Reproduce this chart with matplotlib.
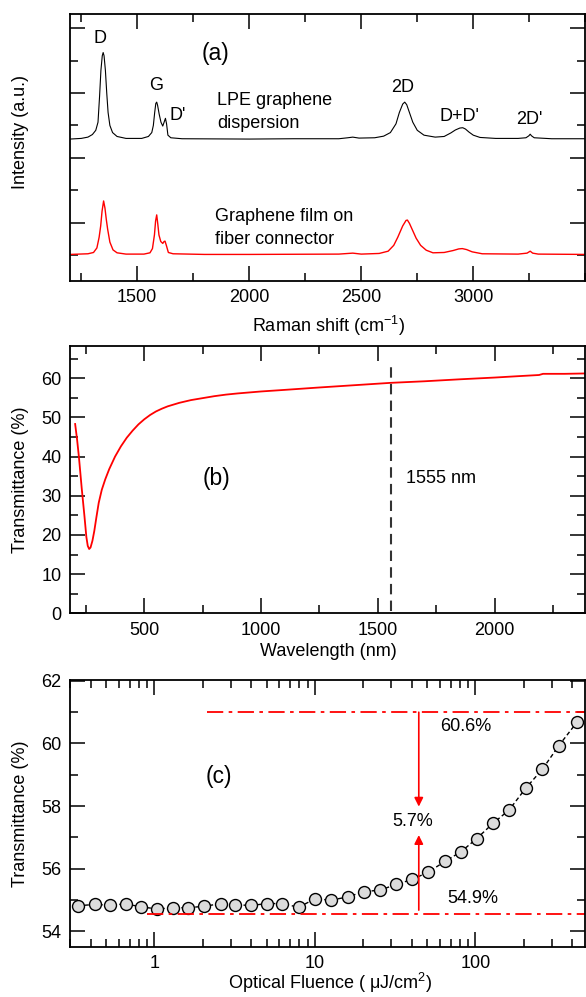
import numpy as np
import matplotlib.pyplot as plt
from matplotlib.ticker import MultipleLocator, FixedLocator, LogLocator, NullFormatter, FixedFormatter

plt.rcParams['font.family'] = ['Liberation Sans', 'DejaVu Sans']
plt.rcParams['mathtext.fontset'] = 'custom'
plt.rcParams['mathtext.rm'] = 'Liberation Sans'
plt.rcParams['mathtext.it'] = 'Liberation Sans:italic'
plt.rcParams['mathtext.default'] = 'regular'

# (a) Raman spectra (arbitrary intensity units)
raman_lpe_x = [1200, 1250, 1280, 1300, 1315, 1325, 1332, 1338, 1344, 1348, 1352, 1358, 1364, 1370,
               1378, 1390, 1410, 1450, 1520, 1550, 1565, 1572, 1578, 1583, 1587, 1591, 1598, 1606,
               1614, 1620, 1626, 1631, 1637, 1650, 1700, 2000, 2200, 2400, 2440, 2462, 2490, 2560,
               2600, 2630, 2655, 2670, 2685, 2694, 2703, 2715, 2730, 2750, 2780, 2830, 2870, 2900,
               2920, 2940, 2953, 2965, 2980, 3000, 3030, 3100, 3200, 3235, 3248, 3254, 3260, 3272,
               3350, 3500]
raman_lpe_y = [3.58, 3.60, 3.64, 3.72, 3.85, 4.10, 4.90, 5.70, 6.15, 6.25, 6.15, 5.70, 5.00, 4.40,
               4.00, 3.78, 3.66, 3.60, 3.60, 3.66, 3.78, 4.00, 4.40, 4.68, 4.72, 4.62, 4.35, 4.10,
               3.98, 4.10, 4.22, 4.05, 3.70, 3.62, 3.59, 3.58, 3.59, 3.59, 3.62, 3.64, 3.61, 3.62,
               3.67, 3.78, 4.05, 4.40, 4.66, 4.72, 4.64, 4.40, 4.10, 3.85, 3.70, 3.64, 3.66, 3.77,
               3.86, 3.92, 3.93, 3.89, 3.80, 3.70, 3.63, 3.60, 3.60, 3.62, 3.68, 3.73, 3.68, 3.62,
               3.59, 3.59]

raman_film_x = [1200, 1280, 1305, 1320, 1330, 1337, 1343, 1350, 1356, 1362, 1368, 1378, 1392, 1410,
                1450, 1530, 1557, 1568, 1577, 1582, 1587, 1592, 1597, 1605, 1614, 1620, 1624, 1630,
                1639, 1660, 1800, 2000, 2400, 2462, 2500, 2580, 2620, 2645, 2663, 2685, 2700, 2706,
                2715, 2730, 2745, 2765, 2790, 2820, 2870, 2910, 2935, 2951, 2970, 2995, 3040, 3200,
                3240, 3254, 3265, 3290, 3500]
raman_film_y = [0.02, 0.04, 0.08, 0.22, 0.55, 0.90, 1.35, 1.67, 1.45, 1.10, 0.80, 0.40, 0.16, 0.07,
                0.03, 0.03, 0.07, 0.20, 0.63, 1.05, 1.24, 0.95, 0.62, 0.42, 0.36, 0.42, 0.43, 0.30,
                0.08, 0.04, 0.02, 0.02, 0.03, 0.06, 0.03, 0.05, 0.12, 0.30, 0.55, 0.90, 1.07, 1.08,
                0.98, 0.75, 0.52, 0.30, 0.15, 0.07, 0.08, 0.14, 0.19, 0.20, 0.17, 0.10, 0.04, 0.03,
                0.06, 0.12, 0.06, 0.03, 0.02]

peak_labels = ["D", "G", "D'", "2D", "D+D'", "2D'"]
peak_label_x = [1334, 1584, 1679, 2685, 2940, 3250]
peak_label_y = [6.69, 5.22, 4.30, 5.18, 4.27, 4.17]

# (b) transmittance spectrum
wl = [204, 212, 220, 232, 244, 252, 258, 264, 270, 278, 286, 295, 305, 318, 333, 350, 375, 400,
      425, 450, 475, 500, 525, 550, 575, 600, 650, 700, 750, 800, 850, 900, 1000, 1100, 1245,
      1400, 1555, 1700, 1850, 2000, 2100, 2190, 2207, 2300, 2390]
trans = [48.3, 44.5, 40.0, 32.0, 24.7, 19.5, 17.2, 16.4, 16.8, 18.5, 21.0, 24.5, 28.2, 31.5, 34.2,
         36.8, 40.0, 42.6, 44.8, 46.6, 48.2, 49.5, 50.6, 51.5, 52.2, 52.8, 53.7, 54.4, 54.9, 55.4,
         55.8, 56.1, 56.6, 57.0, 57.6, 58.2, 58.8, 59.2, 59.7, 60.15, 60.5, 60.8, 61.1, 61.1, 61.2]

# (c) transmittance vs optical fluence
fluence = [0.333, 0.424, 0.531, 0.665, 0.83, 1.04, 1.30, 1.63, 2.03, 2.61, 3.20, 4.01, 5.05, 6.27,
           7.91, 10.0, 12.6, 16.0, 20.1, 25.5, 32.0, 40.3, 50.7, 64.7, 81.5, 102, 129, 162, 206,
           261, 331, 431]
trans_fl = [54.81, 54.85, 54.83, 54.87, 54.77, 54.71, 54.74, 54.75, 54.79, 54.88, 54.84, 54.82,
            54.88, 54.88, 54.76, 55.03, 54.99, 55.09, 55.26, 55.31, 55.49, 55.65, 55.88, 56.23,
            56.54, 56.96, 57.45, 57.87, 58.57, 59.17, 59.93, 60.69]
t_high = 61.0
t_low = 54.53

fs = 13
fig = plt.figure(figsize=(5.86, 9.97), dpi=100)
W = 515.3 / 586
ax1 = fig.add_axes([70 / 586, (997 - 281) / 997, W, 266.7 / 997])
ax2 = fig.add_axes([70 / 586, (997 - 613.3) / 997, W, 267.3 / 997])
ax3 = fig.add_axes([70 / 586, (997 - 946.7) / 997, W, 266.7 / 997])

for ax in (ax1, ax2, ax3):
    for s in ax.spines.values():
        s.set_linewidth(1.3)
    ax.tick_params(which='both', direction='in', top=True, right=True, width=1.1,
                   labelsize=fs, pad=6)
    ax.tick_params(which='major', length=10.5)
    ax.tick_params(which='minor', length=6)

# panel (a)
ax1.plot(raman_lpe_x, raman_lpe_y, color='black', lw=0.8)
ax1.plot(raman_film_x, raman_film_y, color='red', lw=1.0)
ax1.set_xlim(1200, 3500)
ax1.set_ylim(-0.8, 7.43)
ax1.xaxis.set_major_locator(FixedLocator([1500, 2000, 2500, 3000]))
ax1.xaxis.set_minor_locator(MultipleLocator(250))
ax1.yaxis.set_major_locator(FixedLocator([1, 3, 5, 7]))
ax1.yaxis.set_minor_locator(FixedLocator([0, 2, 4, 6]))
ax1.set_yticklabels([])
for lab, x, y in zip(peak_labels, peak_label_x, peak_label_y):
    ax1.text(x, y, lab, ha='center', va='center', fontsize=fs)
ax1.text(1849, 6.23, "(a)", ha='center', va='center', fontsize=16.5)
ax1.text(1858, 4.76, "LPE graphene", ha='left', va='center', fontsize=fs)
ax1.text(1858, 4.07, "dispersion", ha='left', va='center', fontsize=fs)
ax1.text(1849, 1.18, "Graphene film on", ha='left', va='center', fontsize=fs)
ax1.text(1849, 0.49, "fiber connector", ha='left', va='center', fontsize=fs)
ax1.set_xlabel("Raman shift (cm$^{-1}$)", fontsize=fs)
ax1.set_ylabel("Intensity (a.u.)", fontsize=fs)
ax1.xaxis.set_label_coords(0.502, -0.124)
ax1.yaxis.set_label_coords(-0.08, 0.56)

# panel (b)
ax2.plot(wl, trans, color='red', lw=1.3)
ax2.plot([1555, 1555], [0.5, 64.2], color='#333333', lw=1.5, dashes=(5, 3))
ax2.set_xlim(182, 2388)
ax2.set_ylim(0, 68.2)
ax2.xaxis.set_major_locator(MultipleLocator(500))
ax2.xaxis.set_minor_locator(MultipleLocator(250))
ax2.yaxis.set_major_locator(MultipleLocator(10))
ax2.yaxis.set_minor_locator(MultipleLocator(5))
ax2.text(809, 34.5, "(b)", ha='center', va='center', fontsize=16.5)
ax2.text(1620, 34.5, "1555 nm", ha='left', va='center', fontsize=fs)
ax2.set_xlabel("Wavelength (nm)", fontsize=fs)
ax2.set_ylabel("Transmittance (%)", fontsize=fs)
ax2.xaxis.set_label_coords(0.502, -0.110)
ax2.yaxis.set_label_coords(-0.08, 0.5)

# panel (c)
ax3.set_xscale('log')
ax3.plot(fluence, trans_fl, color='black', lw=1.0, dashes=(3, 2), marker='o', markersize=8.6,
         markerfacecolor='#dcdcdc', markeredgecolor='black', markeredgewidth=1.0)
dashdot = (0, (9, 3, 2, 3))
ax3.plot([2.14, 500], [t_high, t_high], color='red', lw=1.3, linestyle=dashdot)
ax3.plot([0.905, 500], [t_low, t_low], color='red', lw=1.3, linestyle=dashdot)
ax3.annotate("", xy=(44.4, 57.98), xytext=(44.4, t_high),
             arrowprops=dict(arrowstyle='-|>', color='red', lw=1.2, mutation_scale=13,
                             shrinkA=0, shrinkB=0))
ax3.annotate("", xy=(44.4, 57.07), xytext=(44.4, 54.67),
             arrowprops=dict(arrowstyle='-|>', color='red', lw=1.2, mutation_scale=13,
                             shrinkA=0, shrinkB=0))
ax3.text(40.5, 57.5, "5.7%", ha='center', va='center', fontsize=fs)
ax3.text(86.6, 60.53, "60.6%", ha='center', va='center', fontsize=fs)
ax3.text(96.8, 55.04, "54.9%", ha='center', va='center', fontsize=fs)
ax3.text(2.51, 58.93, "(c)", ha='center', va='center', fontsize=16.5)
ax3.set_xlim(0.298, 484)
ax3.set_ylim(53.5, 62.03)
ax3.xaxis.set_major_locator(FixedLocator([1, 10, 100]))
ax3.xaxis.set_major_formatter(FixedFormatter(["1", "10", "100"]))
ax3.xaxis.set_minor_locator(LogLocator(base=10, subs=np.arange(2, 10)))
ax3.xaxis.set_minor_formatter(NullFormatter())
ax3.yaxis.set_major_locator(MultipleLocator(2))
ax3.yaxis.set_minor_locator(MultipleLocator(1))
ax3.set_xlabel("Optical Fluence ( \u03bcJ/cm$^{2}$)", fontsize=fs)
ax3.set_ylabel("Transmittance (%)", fontsize=fs)
ax3.xaxis.set_label_coords(0.504, -0.09)
ax3.yaxis.set_label_coords(-0.08, 0.5)

fig.savefig("out.png", dpi=100)
